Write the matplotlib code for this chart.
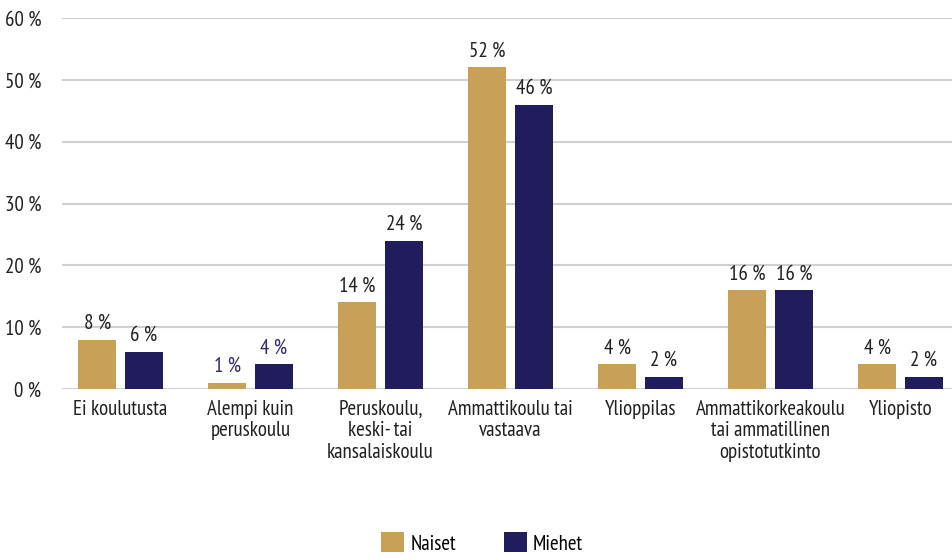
import matplotlib.pyplot as plt
from matplotlib import font_manager
import numpy as np

categories = ['Ei koulutusta', 'Alempi kuin\nperuskoulu', 'Peruskoulu,\nkeski- tai\nkansalaiskoulu',
              'Ammattikoulu tai\nvastaava', 'Ylioppilas', 'Ammattikorkeakoulu\ntai ammatillinen\nopistotutkinto',
              'Yliopisto']
naiset = [8, 1, 14, 52, 4, 16, 4]
miehet = [6, 4, 24, 46, 2, 16, 2]
series_names = ['Naiset', 'Miehet']
y_ticks = [0, 10, 20, 30, 40, 50, 60]

gold = '#C9A057'
navy = '#211C5C'
text_col = '#231F20'

# pick a narrow sans face if one is around
installed = {f.name for f in font_manager.fontManager.ttflist}
wanted = ['PT Sans Narrow', 'Fira Sans Condensed', 'Roboto Condensed', 'Open Sans Condensed',
          'Encode Sans Condensed', 'Archivo Narrow', 'Liberation Sans Narrow']
narrow = [f for f in wanted if f in installed][:1]
plt.rcParams['font.family'] = narrow + ['DejaVu Sans']

fig = plt.figure(figsize=(9.52, 5.59), dpi=100)
W, H = 952, 559
# axes placed in pixel terms, right edge runs past the figure
left, right, top, bottom = 62, 965.5, 18, 389
ax = fig.add_axes([left / W, (H - bottom) / H, (right - left) / W, (bottom - top) / H])

x = np.arange(len(categories))
bw = 0.292
off = 0.18
ax.bar(x - off, naiset, bw, color=gold, label=series_names[0], zorder=3)
ax.bar(x + off, miehet, bw, color=navy, label=series_names[1], zorder=3)

fs = 15
# value labels; the second group is printed in navy
for i in range(len(categories)):
    c = '#2E2C6E' if i == 1 else text_col
    ax.text(x[i] - off, naiset[i] + 1.1, f'{naiset[i]} %', ha='center', va='bottom', fontsize=fs, color=c)
    ax.text(x[i] + off, miehet[i] + 1.1, f'{miehet[i]} %', ha='center', va='bottom', fontsize=fs, color=c)

ax.set_xlim(-0.45, 6.5)
ax.set_ylim(0, 60)
ax.set_yticks(y_ticks)
ax.set_yticklabels([f'{t} %' for t in y_ticks], fontsize=fs, color=text_col)
ax.yaxis.grid(True, color='#D0D0D0', linewidth=1.5, zorder=0)
ax.tick_params(axis='y', length=0, pad=15)
ax.set_xticks(x)
ax.set_xticklabels(categories, fontsize=fs, color=text_col, linespacing=1.15)
ax.tick_params(axis='x', length=0, pad=8)
for s in ax.spines.values():
    s.set_visible(False)

fig.legend(loc='center', bbox_to_anchor=(482 / W, (H - 543) / H), ncol=2, frameon=False,
           fontsize=fs, handlelength=1.1, handleheight=1.1, handletextpad=0.3, columnspacing=2.3)

fig.savefig('out.png', dpi=100)
